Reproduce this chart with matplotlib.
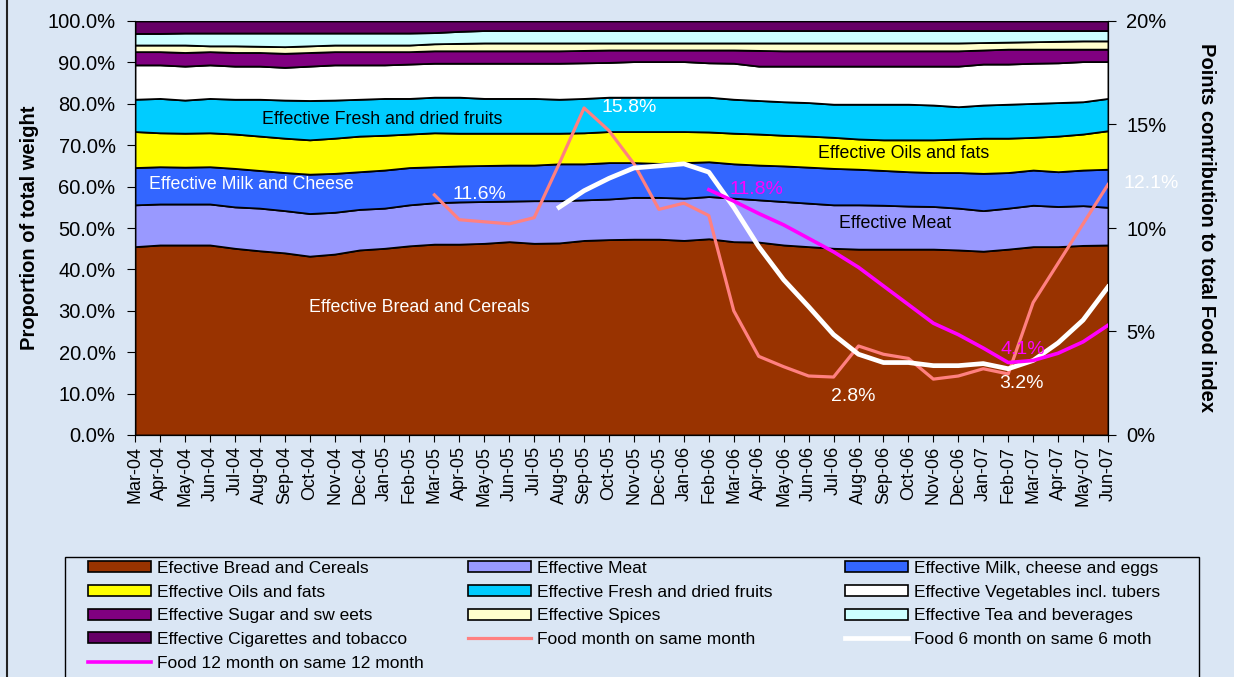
import matplotlib
matplotlib.use("Agg")
import matplotlib.pyplot as plt
import numpy as np
from matplotlib.patches import Patch, Rectangle
from matplotlib.lines import Line2D
from matplotlib.ticker import FuncFormatter, FixedLocator

plt.rcParams['font.family'] = ['Liberation Sans', 'DejaVu Sans']

nan = np.nan

months = ['Mar-04', 'Apr-04', 'May-04', 'Jun-04', 'Jul-04', 'Aug-04', 'Sep-04', 'Oct-04',
          'Nov-04', 'Dec-04', 'Jan-05', 'Feb-05', 'Mar-05', 'Apr-05', 'May-05', 'Jun-05',
          'Jul-05', 'Aug-05', 'Sep-05', 'Oct-05', 'Nov-05', 'Dec-05', 'Jan-06', 'Feb-06',
          'Mar-06', 'Apr-06', 'May-06', 'Jun-06', 'Jul-06', 'Aug-06', 'Sep-06', 'Oct-06',
          'Nov-06', 'Dec-06', 'Jan-07', 'Feb-07', 'Mar-07', 'Apr-07', 'May-07', 'Jun-07']

# Stacked weights (% of total food weight)
bread = [45.5, 45.9, 45.9, 45.9, 45.1, 44.5, 44.0, 43.2, 43.7, 44.7, 45.1, 45.7, 46.1, 46.1, 46.3,
         46.7, 46.3, 46.4, 47.0, 47.2, 47.3, 47.3, 47.0, 47.4, 46.7, 46.6, 45.9, 45.5, 45.1, 44.9,
         44.9, 44.9, 44.9, 44.7, 44.4, 44.9, 45.5, 45.5, 45.8, 45.9]
meat = [10.1, 9.9, 9.9, 9.9, 10.0, 10.3, 10.2, 10.3, 10.1, 9.8, 9.7, 9.9, 10.0, 10.2, 10.1,
        9.8, 10.3, 10.2, 9.8, 9.8, 10.1, 10.1, 10.2, 10.2, 10.5, 10.2, 10.5, 10.5, 10.5, 10.7,
        10.6, 10.4, 10.3, 10.1, 9.8, 9.9, 10.0, 9.7, 9.6, 9.1]
milk = [9.0, 9.0, 8.9, 9.0, 9.3, 9.1, 9.2, 9.5, 9.4, 9.1, 9.2, 9.0, 8.7, 8.7, 8.7,
        8.7, 8.6, 8.9, 8.7, 8.8, 8.4, 8.2, 8.6, 8.4, 8.3, 8.4, 8.6, 8.7, 8.8, 8.6,
        8.4, 8.3, 8.2, 8.6, 9.0, 8.6, 8.5, 8.4, 8.6, 9.2]
oils = [8.7, 8.2, 8.2, 8.2, 8.3, 8.3, 8.3, 8.3, 8.5, 8.6, 8.4, 8.1, 8.2, 7.9, 7.8,
        7.7, 7.7, 7.4, 7.5, 7.5, 7.5, 7.7, 7.5, 7.2, 7.4, 7.5, 7.4, 7.5, 7.5, 7.3,
        7.4, 7.7, 7.9, 8.1, 8.5, 8.3, 7.9, 8.6, 8.7, 9.3]
fruits = [7.8, 8.3, 8.0, 8.3, 8.4, 8.9, 9.2, 9.5, 9.2, 8.9, 8.9, 8.6, 8.6, 8.7, 8.4,
          8.4, 8.4, 8.2, 8.3, 8.3, 8.3, 8.3, 8.3, 8.4, 8.2, 8.1, 8.1, 8.1, 8.0, 8.4,
          8.6, 8.6, 8.4, 7.8, 8.0, 8.2, 8.2, 8.1, 7.8, 7.8]
vegetables = [8.3, 8.1, 8.2, 8.1, 8.0, 8.0, 7.9, 8.3, 8.5, 8.3, 8.1, 8.3, 8.2, 8.2, 8.5,
              8.5, 8.5, 8.7, 8.6, 8.4, 8.6, 8.6, 8.6, 8.3, 8.7, 8.3, 8.6, 8.8, 9.2, 9.2,
              9.2, 9.2, 9.4, 9.8, 9.9, 9.7, 9.7, 9.6, 9.7, 8.9]
sugar = [3.2, 3.2, 3.3, 3.2, 3.3, 3.3, 3.4, 3.3, 3.2, 3.2, 3.2, 3.0, 3.0, 3.0, 3.0,
         3.0, 3.0, 3.0, 3.0, 3.0, 2.8, 2.8, 2.8, 3.1, 3.2, 3.8, 3.7, 3.7, 3.7, 3.7,
         3.7, 3.7, 3.7, 3.7, 3.4, 3.6, 3.4, 3.3, 3.0, 3.0]
spices = [1.6, 1.6, 1.8, 1.4, 1.6, 1.5, 1.6, 1.6, 1.6, 1.6, 1.6, 1.6, 1.7, 1.8, 1.9,
          1.9, 1.9, 1.9, 1.8, 1.7, 1.7, 1.7, 1.7, 1.7, 1.7, 1.8, 1.9, 1.9, 1.9, 1.9,
          1.9, 1.9, 1.9, 1.9, 1.8, 1.7, 1.8, 1.9, 2.0, 2.0]
tea = [2.8, 2.8, 2.9, 3.1, 3.1, 3.2, 3.3, 3.1, 2.9, 2.9, 2.9, 2.9, 2.7, 2.9, 3.0,
       3.0, 3.0, 3.0, 3.0, 3.0, 3.0, 3.0, 3.0, 3.0, 3.0, 3.0, 3.0, 3.0, 3.0, 3.0,
       3.0, 3.0, 3.0, 3.0, 2.9, 2.8, 2.7, 2.6, 2.5, 2.5]
cigarettes = [3.0, 3.0, 2.9, 2.9, 2.9, 2.9, 2.9, 2.9, 2.9, 2.9, 2.9, 2.9, 2.8, 2.5, 2.3,
              2.3, 2.3, 2.3, 2.3, 2.3, 2.3, 2.3, 2.3, 2.3, 2.3, 2.3, 2.3, 2.3, 2.3, 2.3,
              2.3, 2.3, 2.3, 2.3, 2.3, 2.3, 2.3, 2.3, 2.3, 2.3]

# Food inflation lines (right axis, %)
food_month = [nan] * 12 + [11.6, 10.4, 10.3, 10.2, 10.5, 13.1, 15.8, 14.7, 13.1, 10.9, 11.2, 10.6,
                           6.0, 3.8, 3.3, 2.85, 2.8, 4.3, 3.9, 3.7, 2.7, 2.85, 3.2, 2.95,
                           6.4, 8.3, 10.2, 12.1]
food_6m = [nan] * 17 + [11.0, 11.8, 12.4, 12.9, 13.0, 13.1, 12.7, 11.0, 9.1, 7.5, 6.2, 4.85,
                        3.9, 3.5, 3.5, 3.35, 3.35, 3.45, 3.2, 3.6, 4.45, 5.55, 7.15]
food_12m = [nan] * 23 + [11.85, 11.3, 10.7, 10.15, 9.5, 8.85, 8.1, 7.2, 6.3, 5.4, 4.85, 4.2,
                         3.5, 3.6, 3.95, 4.5, 5.3]

series_names = ['Efective Bread and Cereals', 'Effective Meat', 'Effective Milk, cheese and eggs',
                'Effective Oils and fats', 'Effective Fresh and dried fruits',
                'Effective Vegetables incl. tubers', 'Effective Sugar and sw eets',
                'Effective Spices', 'Effective Tea and beverages', 'Effective Cigarettes and tobacco']
series_colors = ['#993300', '#9999FF', '#3366FF', '#FFFF00', '#00CCFF', '#FFFFFF',
                 '#800080', '#FFFFCC', '#CCFFFF', '#660066']
line_names = ['Food month on same month', 'Food 6 month on same 6 moth',
              'Food 12 month on same 12 month']
line_colors = ['#FF8080', '#FFFFFF', '#FF00FF']

BG = '#DAE6F4'
W, H = 1234, 677

fig = plt.figure(figsize=(W / 100, H / 100), dpi=100, facecolor=BG)
L, R, T, B = 135, 1108, 21, 435
ax = fig.add_axes([L / W, 1 - B / H, (R - L) / W, (B - T) / H])
ax.set_facecolor(BG)

x = np.arange(len(months))
stack = [bread, meat, milk, oils, fruits, vegetables, sugar, spices, tea, cigarettes]
ax.stackplot(x, *stack, colors=series_colors, edgecolor='black', linewidth=1.3)

ax.set_xlim(0, len(months) - 1)
ax.set_ylim(0, 100)
ax.yaxis.set_major_locator(FixedLocator(np.arange(0, 101, 10)))
ax.yaxis.set_major_formatter(FuncFormatter(lambda v, p: f'{v:.1f}%'))
ax.set_xticks(x)
ax.set_xticklabels(months, rotation=90, fontsize=13)
ax.tick_params(axis='y', labelsize=14.5, length=6, direction='out', pad=8)
ax.tick_params(axis='x', length=5, direction='out', pad=3)
ax.spines['top'].set_visible(False)
ax.set_ylabel('Proportion of total weight', fontsize=14.5, fontweight='bold', labelpad=6)

ax2 = ax.twinx()
ax2.set_ylim(0, 20)
ax2.yaxis.set_major_locator(FixedLocator([0, 5, 10, 15, 20]))
ax2.yaxis.set_major_formatter(FuncFormatter(lambda v, p: f'{v:.0f}%'))
ax2.tick_params(axis='y', labelsize=14.5, length=6, direction='out', pad=7)
ax2.spines['top'].set_visible(False)
ax2.plot(x, food_month, color=line_colors[0], lw=2.3, zorder=3)
ax2.plot(x, food_6m, color=line_colors[1], lw=3.4, zorder=4)
ax2.plot(x, food_12m, color=line_colors[2], lw=2.6, zorder=5)
ax2.set_ylabel('Points contribution to total Food index', fontsize=14.5, fontweight='bold',
               rotation=-90, labelpad=36)

# Category labels in the areas
ax.text(9.9, 76.3, 'Effective Fresh and dried fruits', fontsize=12.8, color='black', ha='center', va='center')
ax.text(30.8, 68.1, 'Effective Oils and fats', fontsize=12.8, color='black', ha='center', va='center')
ax.text(4.66, 60.6, 'Effective Milk and Cheese', fontsize=12.8, color='white', ha='center', va='center')
ax.text(30.46, 51.0, 'Effective Meat', fontsize=12.8, color='black', ha='center', va='center')
ax.text(11.4, 30.7, 'Effective Bread and Cereals', fontsize=12.8, color='white', ha='center', va='center')

# Data labels on the lines
ax2.text(13.8, 11.64, '11.6%', fontsize=14, color='white', ha='center', va='center', zorder=6)
ax2.text(19.8, 15.8, '15.8%', fontsize=14, color='white', ha='center', va='center', zorder=6)
ax2.text(24.9, 11.84, '11.8%', fontsize=14, color='#FF00FF', ha='center', va='center', zorder=6)
ax2.text(40.75, 12.17, '12.1%', fontsize=14, color='white', ha='center', va='center', zorder=6, clip_on=False)
ax2.text(28.8, 1.84, '2.8%', fontsize=14, color='white', ha='center', va='center', zorder=6)
ax2.text(35.6, 4.15, '4.1%', fontsize=14, color='#FF00FF', ha='center', va='center', zorder=6)
ax2.text(35.55, 2.5, '3.2%', fontsize=14, color='white', ha='center', va='center', zorder=6)

# Left border of chart area
fig.add_artist(Line2D([7 / W, 7 / W], [0, 1], transform=fig.transFigure, color='#222222', lw=1.5))

# Legend frame
fig.add_artist(Rectangle((65 / W, -0.05), (1199 - 65) / W, (1 - 557 / H) + 0.05,
                         transform=fig.transFigure, facecolor='none', edgecolor='black', lw=1.0))

def patch(c):
    return Patch(facecolor=c, edgecolor='black', linewidth=1.2)

def ln(c, w):
    return Line2D([], [], color=c, lw=w)

cols = [
    ([patch(series_colors[0]), patch(series_colors[3]), patch(series_colors[6]), patch(series_colors[9]), ln(line_colors[2], 2.6)],
     [series_names[0], series_names[3], series_names[6], series_names[9], line_names[2]], 88),
    ([patch(series_colors[1]), patch(series_colors[4]), patch(series_colors[7]), ln(line_colors[0], 2.3)],
     [series_names[1], series_names[4], series_names[7], line_names[0]], 468),
    ([patch(series_colors[2]), patch(series_colors[5]), patch(series_colors[8]), ln(line_colors[1], 3.4)],
     [series_names[2], series_names[5], series_names[8], line_names[1]], 845),
]
for handles, labels, px in cols:
    leg = fig.legend(handles, labels, loc='upper left', bbox_to_anchor=(px / W, 1 - 561 / H),
                     frameon=False, fontsize=12.5, borderpad=0, handlelength=3.6,
                     handleheight=0.6, handletextpad=0.4, labelspacing=0.5, borderaxespad=0)

fig.savefig('out.png', dpi=100, facecolor=BG)
